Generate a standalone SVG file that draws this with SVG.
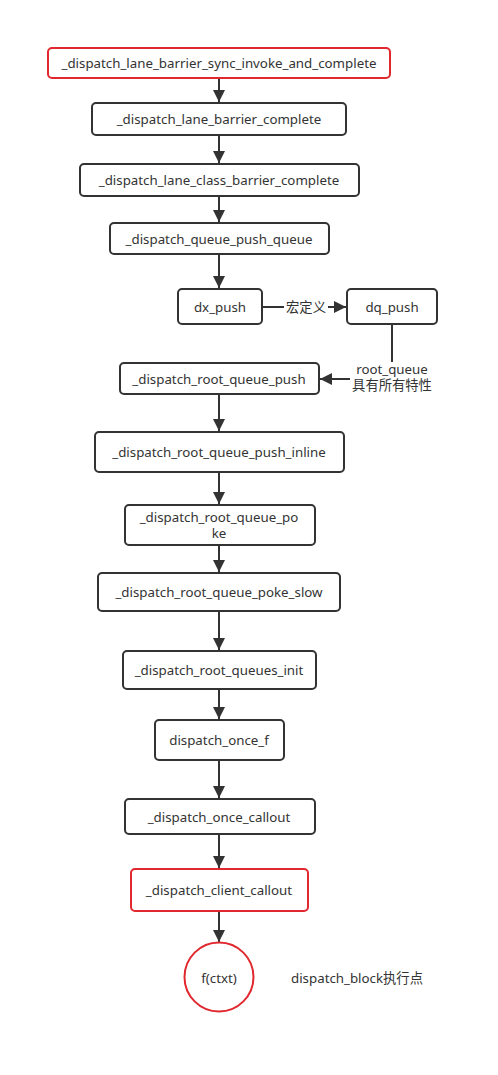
<svg xmlns="http://www.w3.org/2000/svg" width="498" height="1075" viewBox="0 0 498 1075">
<style>
.b{fill:#fff;stroke:#333;stroke-width:2}
.r{fill:#fff;stroke:#e0282e;stroke-width:2}
.t{font-family:"Noto Sans","Noto Sans CJK SC",sans-serif;font-size:13.3px;fill:#333;text-anchor:middle;dominant-baseline:central}
.l{fill:none;stroke:#333;stroke-width:2}
</style>
<defs>
<marker id="ah" viewBox="0 0 12 12" refX="12" refY="6" markerWidth="12" markerHeight="12" markerUnits="userSpaceOnUse" orient="auto">
<path d="M0,0 L12,6 L0,12 z" fill="#333"/>
</marker>
</defs>
<rect width="498" height="1075" fill="#fff"/>
<g id="connectors">
<line class="l" x1="219" y1="79" x2="219" y2="102" marker-end="url(#ah)"/>
<line class="l" x1="219" y1="136" x2="219" y2="163" marker-end="url(#ah)"/>
<line class="l" x1="219" y1="197" x2="219" y2="222" marker-end="url(#ah)"/>
<line class="l" x1="219" y1="255" x2="219" y2="288" marker-end="url(#ah)"/>
<line class="l" x1="263" y1="307" x2="284" y2="307"/>
<line class="l" x1="328" y1="307" x2="346" y2="307" marker-end="url(#ah)"/>
<polyline class="l" points="392,325 392,362"/>
<line class="l" x1="350" y1="379" x2="320" y2="379" marker-end="url(#ah)"/>
<line class="l" x1="219" y1="395" x2="219" y2="431" marker-end="url(#ah)"/>
<line class="l" x1="219" y1="473" x2="219" y2="504" marker-end="url(#ah)"/>
<line class="l" x1="219" y1="546" x2="219" y2="572" marker-end="url(#ah)"/>
<line class="l" x1="219" y1="612" x2="219" y2="650" marker-end="url(#ah)"/>
<line class="l" x1="219" y1="690" x2="219" y2="719" marker-end="url(#ah)"/>
<line class="l" x1="219" y1="761" x2="219" y2="798" marker-end="url(#ah)"/>
<line class="l" x1="219" y1="835" x2="219" y2="868" marker-end="url(#ah)"/>
<line class="l" x1="219" y1="912" x2="219" y2="942" marker-end="url(#ah)"/>
<text class="t" x="306" y="307">宏定义</text>
<text class="t" x="392" y="369">root_queue</text>
<text class="t" x="392" y="385">具有所有特性</text>
</g>
<g id="n1"><rect class="r" x="48" y="48" width="342" height="30" rx="4"/><text class="t" x="219" y="63">_dispatch_lane_barrier_sync_invoke_and_complete</text></g>
<g id="n2"><rect class="b" x="92" y="103" width="254" height="32" rx="4"/><text class="t" x="219" y="119">_dispatch_lane_barrier_complete</text></g>
<g id="n3"><rect class="b" x="80" y="164" width="279" height="32" rx="4"/><text class="t" x="219" y="180">_dispatch_lane_class_barrier_complete</text></g>
<g id="n4"><rect class="b" x="110" y="223" width="219" height="31" rx="4"/><text class="t" x="219" y="238.5">_dispatch_queue_push_queue</text></g>
<g id="n5"><rect class="b" x="178" y="289" width="84" height="35" rx="4"/><text class="t" x="220" y="306.5">dx_push</text></g>
<g id="n6"><rect class="b" x="347" y="289" width="90" height="35" rx="4"/><text class="t" x="392" y="306.5">dq_push</text></g>
<g id="n7"><rect class="b" x="120" y="363" width="199" height="31" rx="4"/><text class="t" x="219" y="378.5">_dispatch_root_queue_push</text></g>
<g id="n8"><rect class="b" x="95" y="432" width="249" height="40" rx="4"/><text class="t" x="219" y="452">_dispatch_root_queue_push_inline</text></g>
<g id="n9"><rect class="b" x="125" y="505" width="190" height="40" rx="4"/><text class="t" x="219" y="517">_dispatch_root_queue_po</text><text class="t" x="219" y="533">ke</text></g>
<g id="n10"><rect class="b" x="98" y="573" width="242" height="38" rx="4"/><text class="t" x="219" y="592">_dispatch_root_queue_poke_slow</text></g>
<g id="n11"><rect class="b" x="123" y="651" width="193" height="38" rx="4"/><text class="t" x="219" y="670">_dispatch_root_queues_init</text></g>
<g id="n12"><rect class="b" x="155" y="720" width="129" height="40" rx="4"/><text class="t" x="219" y="740">dispatch_once_f</text></g>
<g id="n13"><rect class="b" x="125" y="799" width="190" height="35" rx="4"/><text class="t" x="219" y="816.5">_dispatch_once_callout</text></g>
<g id="n14"><rect class="r" x="131" y="869" width="177" height="42" rx="4"/><text class="t" x="219" y="890">_dispatch_client_callout</text></g>
<g id="n15"><circle cx="219" cy="977" r="34.5" fill="#fff" stroke="#e0282e" stroke-width="2"/><text class="t" x="219" y="978">f(ctxt)</text></g>
<g id="n16"><text class="t" x="357" y="978">dispatch_block执行点</text></g>
</svg>
